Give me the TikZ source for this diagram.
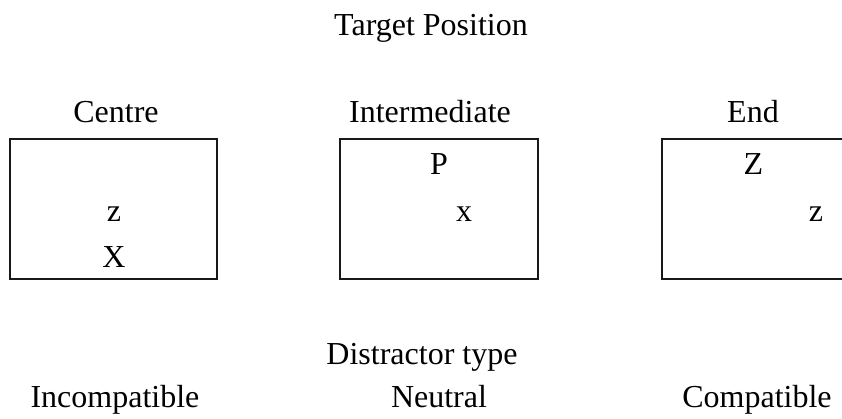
\documentclass[tikz,border=0pt]{standalone}
\usepackage{fontspec}
\setmainfont{Liberation Serif}
\begin{document}
\begin{tikzpicture}[x=1pt,y=1pt,
  lbl/.style={anchor=base, inner sep=0pt, font=\fontsize{32}{38}\selectfont},
  frame/.style={draw=black!90, line width=1.7pt, inner sep=0pt, rectangle}]
\useasboundingbox (0,0) rectangle (842,-419);
% title
\node[lbl] (title) at (431,-36) {Target Position};
% column headers
\node[lbl] (hc) at (116,-123) {Centre};
\node[lbl] (hi) at (430,-123) {Intermediate};
\node[lbl] (he) at (753,-123) {End};
% boxes
\node[frame, minimum width=207pt, minimum height=140pt] (b1) at (113.5,-209) {};
\node[frame, minimum width=198pt, minimum height=140pt] (b2) at (439,-209) {};
\node[frame, minimum width=190pt, minimum height=140pt] (b3) at (757,-209) {};
% letters
\node[lbl] (z1) at (114,-222) {z};
\node[lbl] (X1) at (114,-268) {X};
\node[lbl] (P2) at (439,-175) {P};
\node[lbl] (x2) at (464,-222) {x};
\node[lbl] (Z3) at (753.5,-175) {Z};
\node[lbl] (z3) at (816,-222) {z};
% bottom labels
\node[lbl] (dt) at (422,-364) {Distractor type};
\node[lbl] (inc) at (115,-407) {Incompatible};
\node[lbl] (neu) at (439,-407) {Neutral};
\node[lbl] (com) at (757,-407) {Compatible};
\end{tikzpicture}
\end{document}
